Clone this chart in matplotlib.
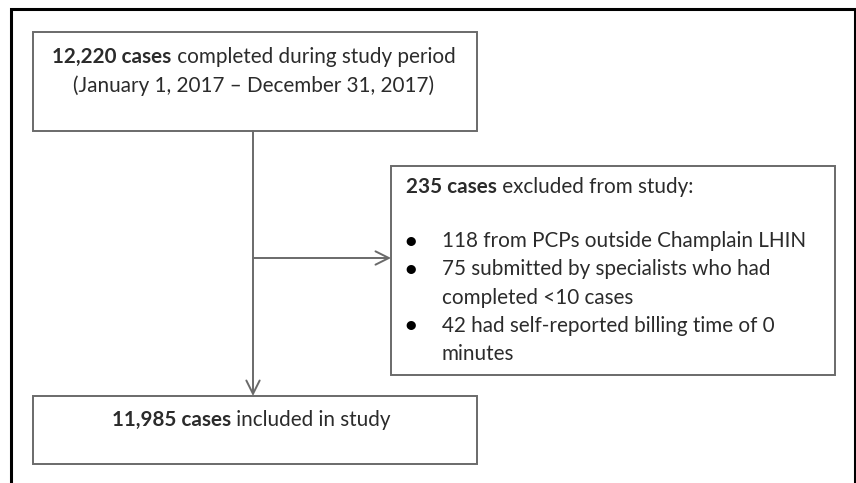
import matplotlib
matplotlib.use("Agg")
import matplotlib.pyplot as plt
from matplotlib.patches import Rectangle

plt.rcParams['font.family'] = ['Lato', 'DejaVu Sans']

# flowchart content
top_lines = [[("12,220 cases", "bold"), (" completed during study period", "normal")],
             [("(January 1, 2017 \u2013 December 31, 2017)", "normal")]]
excl_header = [("235 cases", "bold"), (" excluded from study:", "normal")]
excl_bullets = [["118 from PCPs outside Champlain LHIN"],
                ["75 submitted by specialists who had", "completed <10 cases"],
                ["42 had self-reported billing time of 0", "minutes"]]
bottom_lines = [[("11,985 cases", "bold"), (" included in study", "normal")]]

# boxes: (x0, y0, x1, y1) in pixels
box_top = (33, 32, 477, 131)
box_excl = (391, 166, 835, 375)
box_bottom = (33, 396, 477, 464)
stem_x = 253
branch_y = 258

W, H = 856, 483
TXT = '#2b2b2b'
EDGE = '#6a6a6a'
FS = 14.9

fig = plt.figure(figsize=(W / 100, H / 100), dpi=100)
ax = fig.add_axes([0, 0, 1, 1])
ax.set_xlim(0, W)
ax.set_ylim(H, 0)
ax.axis('off')

# outer frame (no bottom edge)
ax.plot([11, 11, 855, 855], [H, 9, 9, H], color='black', lw=2.2, solid_joinstyle='miter')

for b in (box_top, box_excl, box_bottom):
    ax.add_patch(Rectangle((b[0], b[1]), b[2] - b[0], b[3] - b[1],
                           fill=False, ec=EDGE, lw=1.4))

renderer = fig.canvas.get_renderer()


def rich_line(x, y, parts, ha='center'):
    texts = []
    widths = []
    for s, w in parts:
        t = ax.text(0, y, s, fontsize=FS, fontweight=w, color=TXT, va='center', ha='left')
        widths.append(t.get_window_extent(renderer).width)
        texts.append(t)
    total = sum(widths)
    cur = x - total / 2 if ha == 'center' else x
    for t, w in zip(texts, widths):
        t.set_x(cur)
        cur += w


rich_line(254, 57, top_lines[0])
rich_line(254, 86, top_lines[1])
rich_line(251, 420, bottom_lines[0])
rich_line(406, 187, excl_header, ha='left')

yy = 241
for item in excl_bullets:
    ax.text(411, yy, "\u2022", fontsize=FS + 3, color='black', va='center', ha='center')
    for line in item:
        ax.text(442, yy, line, fontsize=FS, color=TXT, va='center', ha='left')
        yy += 28.3

# connectors
arrow = dict(arrowstyle='->', color=EDGE, lw=1.4, mutation_scale=24, shrinkA=0, shrinkB=0)
ax.annotate('', xy=(stem_x, box_bottom[1]), xytext=(stem_x, box_top[3]), arrowprops=arrow)
ax.annotate('', xy=(box_excl[0], branch_y), xytext=(stem_x, branch_y), arrowprops=arrow)

fig.savefig('out.png', dpi=100, facecolor='white')
